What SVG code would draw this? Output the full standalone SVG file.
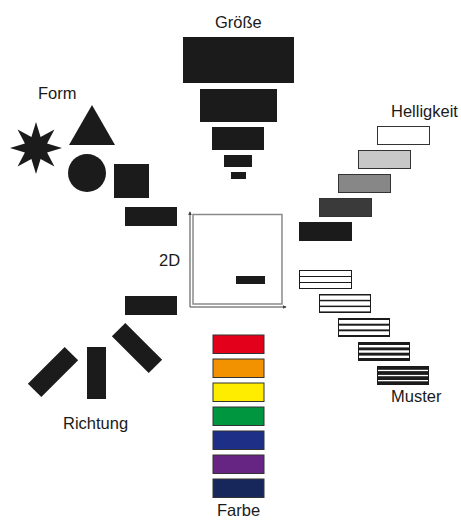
<svg xmlns="http://www.w3.org/2000/svg" width="461" height="520" viewBox="0 0 461 520">
<style>
text{font-family:"Liberation Sans",Arial,sans-serif;font-size:16.5px;fill:#1a1a1a}
.k{fill:#1b1b1b}
.h{stroke:#333;stroke-width:1}
.f{stroke:#333;stroke-width:1}
.w{fill:#fff}
</style>
<defs>
<marker id="ah" viewBox="0 0 6 6" refX="5" refY="3" markerWidth="4" markerHeight="4" orient="auto" markerUnits="userSpaceOnUse">
<path d="M0,0 L6,3 L0,6 Z" fill="#444"/>
</marker>
</defs>
<rect width="461" height="520" fill="#fff"/>

<g id="form">
<text x="38" y="99">Form</text>
<polygon class="k" points="36,122 40.6,136.9 54.4,129.6 47.1,143.4 62,148 47.1,152.6 54.4,166.4 40.6,159.1 36,174 31.4,159.1 17.6,166.4 24.9,152.6 10,148 24.9,143.4 17.6,129.6 31.4,136.9"/>
<polygon class="k" points="92,105 115,145 69,145"/>
<circle class="k" cx="87" cy="173" r="19"/>
<rect class="k" x="114" y="164" width="35" height="34"/>
<rect class="k" x="125" y="207" width="52" height="19"/>
</g>

<g id="groesse">
<text x="215" y="28">Größe</text>
<rect class="k" x="183" y="37" width="111" height="46"/>
<rect class="k" x="200" y="89" width="77" height="33"/>
<rect class="k" x="212" y="127" width="52" height="23"/>
<rect class="k" x="224" y="155" width="28" height="12"/>
<rect class="k" x="231" y="172" width="15" height="7"/>
</g>

<g id="helligkeit">
<text x="391" y="117">Helligkeit</text>
<rect class="h" x="377.5" y="126.5" width="52" height="18" fill="#fff"/>
<rect class="h" x="358.5" y="150.5" width="52" height="18" fill="#c8c8c8"/>
<rect class="h" x="338.5" y="174.5" width="52" height="18" fill="#878787"/>
<rect class="h" x="319.5" y="198.5" width="52" height="18" fill="#3a3a3a"/>
<rect class="k" x="299" y="222" width="53" height="19"/>
</g>

<g id="zweid">
<text x="159" y="266">2D</text>
<rect x="193" y="214.5" width="89" height="89.5" fill="#fff" stroke="#8a8a8a" stroke-width="1.5"/>
<rect class="k" x="236" y="276" width="29" height="8"/>
</g>

<g id="connectors">
<line x1="190" y1="307" x2="190" y2="212" stroke="#444" stroke-width="1" marker-end="url(#ah)"/>
<line x1="190" y1="307" x2="286" y2="307" stroke="#444" stroke-width="1" marker-end="url(#ah)"/>
</g>

<g id="muster">
<text x="391" y="402">Muster</text>
<rect class="k" x="299" y="270" width="53" height="19"/>
<rect class="w" x="300" y="271" width="51" height="5"/>
<rect class="w" x="300" y="277" width="51" height="5"/>
<rect class="w" x="300" y="283" width="51" height="5"/>

<rect class="k" x="319" y="294" width="52" height="19"/>
<rect class="w" x="320" y="295.5" width="50" height="4.3"/>
<rect class="w" x="320" y="301.3" width="50" height="4.3"/>
<rect class="w" x="320" y="307.1" width="50" height="4.3"/>

<rect class="k" x="338" y="318" width="52" height="19"/>
<rect class="w" x="339" y="320" width="50" height="3.7"/>
<rect class="w" x="339" y="325.7" width="50" height="3.7"/>
<rect class="w" x="339" y="331.3" width="50" height="3.7"/>

<rect class="k" x="358" y="342" width="52" height="19"/>
<rect class="w" x="359" y="345" width="50" height="2.4"/>
<rect class="w" x="359" y="350.3" width="50" height="2.4"/>
<rect class="w" x="359" y="355.6" width="50" height="2.4"/>

<rect class="k" x="377" y="366" width="52" height="19"/>
<rect class="w" x="378" y="369.8" width="50" height="1.3"/>
<rect class="w" x="378" y="374.9" width="50" height="1.3"/>
<rect class="w" x="378" y="380" width="50" height="1.3"/>
</g>

<g id="richtung">
<text x="63" y="429">Richtung</text>
<rect class="k" x="125" y="296" width="52" height="19"/>
<rect class="k" x="87" y="347" width="19" height="52"/>
<rect class="k" x="111" y="338.5" width="52" height="19" transform="rotate(45 137 348)"/>
<rect class="k" x="27" y="362.5" width="52" height="19" transform="rotate(-45 53 372)"/>
</g>

<g id="farbe">
<text x="217" y="516">Farbe</text>
<rect class="f" x="213" y="335" width="51" height="18.5" fill="#e2001a"/>
<rect class="f" x="213" y="359" width="51" height="18.5" fill="#f39200"/>
<rect class="f" x="213" y="383" width="51" height="18.5" fill="#ffed00"/>
<rect class="f" x="213" y="407" width="51" height="18.5" fill="#009640"/>
<rect class="f" x="213" y="431" width="51" height="18.5" fill="#1d2f86"/>
<rect class="f" x="213" y="455" width="51" height="18.5" fill="#662483"/>
<rect class="f" x="213" y="479" width="51" height="18.5" fill="#17275c"/>
</g>
</svg>
